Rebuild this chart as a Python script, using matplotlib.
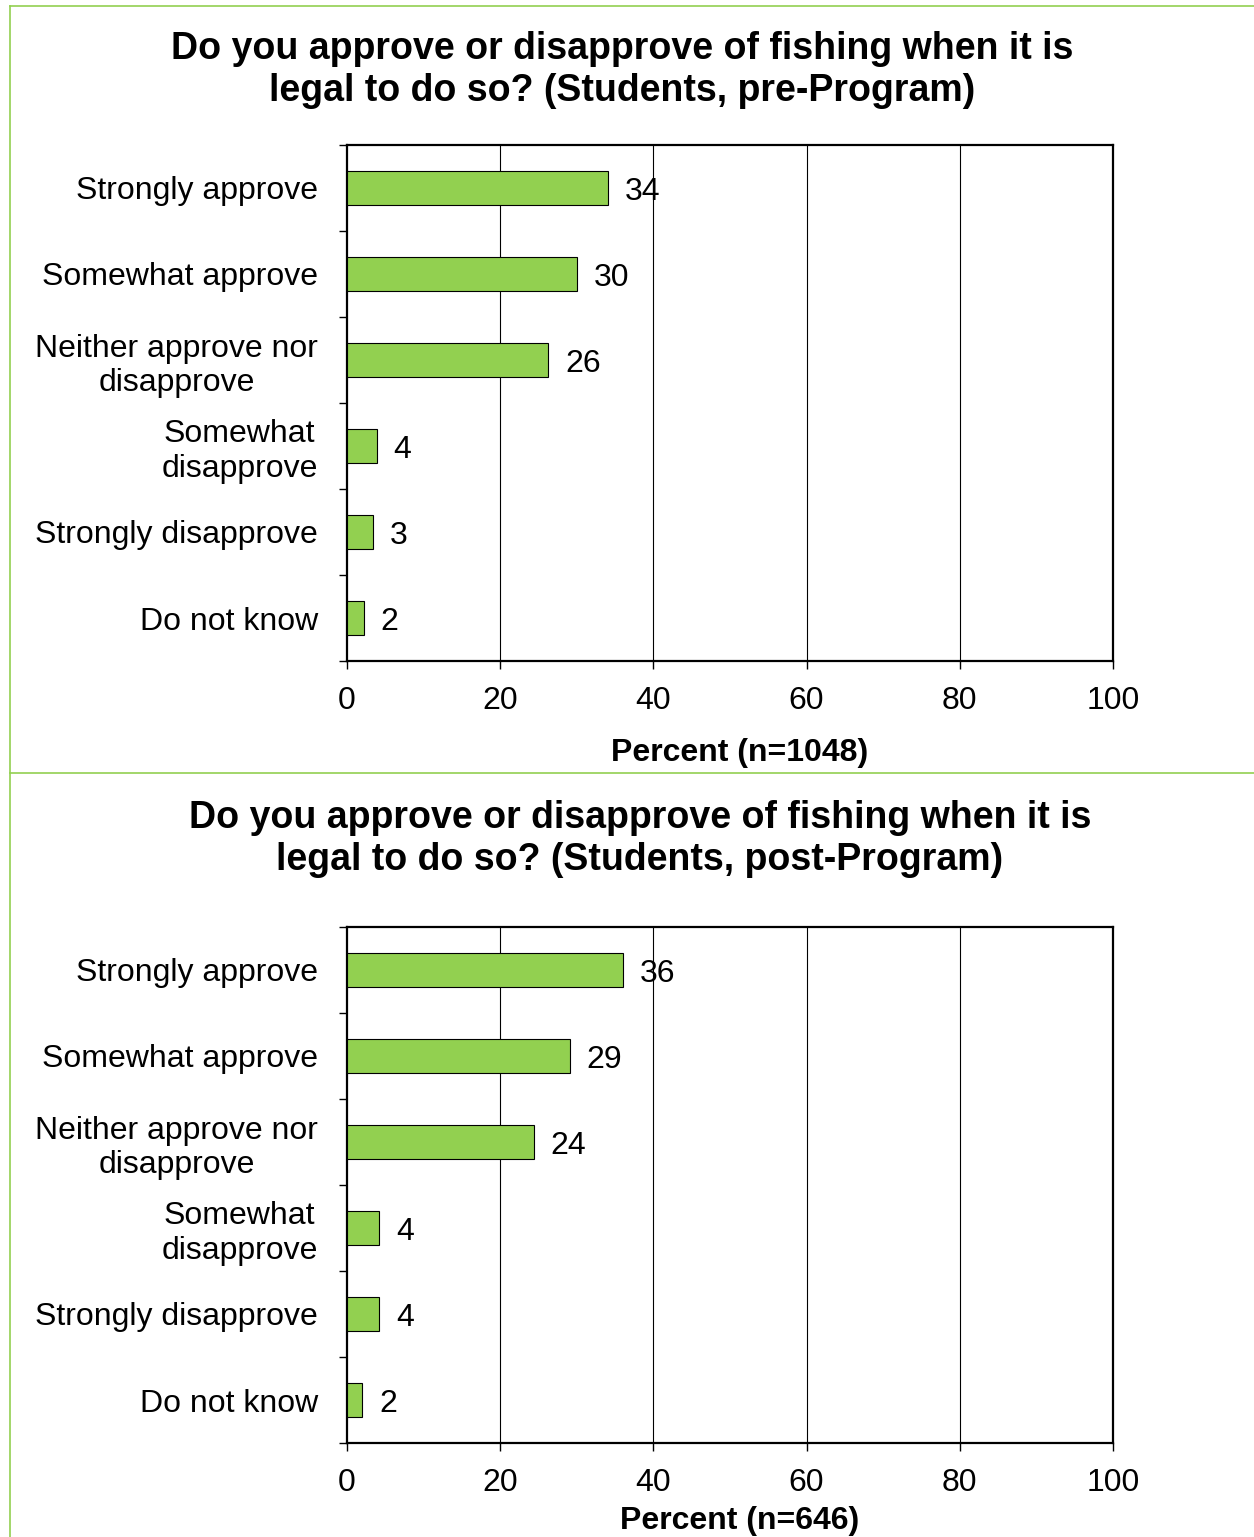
import matplotlib.pyplot as plt
import numpy as np
from matplotlib.lines import Line2D

plt.rcParams["font.family"] = ["Liberation Sans", "DejaVu Sans"]

categories = [
    "Strongly approve",
    "Somewhat approve",
    "Neither approve nor\ndisapprove",
    "Somewhat\ndisapprove",
    "Strongly disapprove",
    "Do not know",
]
pre_values = [34.1, 30.0, 26.3, 3.9, 3.4, 2.2]
pre_labels = ["34", "30", "26", "4", "3", "2"]
post_values = [36.0, 29.1, 24.4, 4.2, 4.2, 2.0]
post_labels = ["36", "29", "24", "4", "4", "2"]
x_ticks = [0, 20, 40, 60, 80, 100]

W, H = 1254, 1537
BAR_GREEN = "#92D050"
FRAME_GREEN = "#92D050"

fig = plt.figure(figsize=(W / 100, H / 100), dpi=100)


def px_axes(x0, y0, x1, y1):
    # pixel box (top-left origin) -> figure fraction
    return fig.add_axes([x0 / W, 1 - y1 / H, (x1 - x0) / W, (y1 - y0) / H])


def draw_panel(ax, values, labels):
    n = len(categories)
    y = np.arange(n)
    ax.barh(y, values, height=0.4, color=BAR_GREEN, edgecolor="black",
            linewidth=0.8, zorder=3)
    for yi, v, lab in zip(y, values, labels):
        ax.text(v + 2.2, yi, lab, va="center_baseline", ha="left", fontsize=23, zorder=4)
    ax.set_xlim(0, 100)
    ax.set_ylim(n - 0.5, -0.5)
    ax.set_xticks(x_ticks)
    ax.set_xticklabels([str(t) for t in x_ticks], fontsize=23)
    ax.set_yticks(y)
    ax.set_yticklabels(categories, fontsize=23, multialignment="center",
                       linespacing=1.2)
    ax.set_yticks(np.arange(n + 1) - 0.5, minor=True)
    ax.tick_params(axis="y", which="major", length=0, pad=21)
    ax.tick_params(axis="y", which="minor", length=6, width=1, direction="out")
    ax.tick_params(axis="x", which="major", length=6, width=1, direction="out", pad=12)
    for g in x_ticks[1:-1]:
        ax.axvline(g, color="black", linewidth=0.8, zorder=1)
    for s in ax.spines.values():
        s.set_linewidth(1.6)


ax1 = px_axes(347, 145, 1113, 661)
draw_panel(ax1, pre_values, pre_labels)
ax2 = px_axes(347, 927, 1113, 1443)
draw_panel(ax2, post_values, post_labels)

fig.text(622 / W, 1 - 70 / H,
         "Do you approve or disapprove of fishing when it is\nlegal to do so? (Students, pre-Program)",
         ha="center", va="center", fontsize=27, fontweight="bold", linespacing=1.22)
fig.text(640 / W, 1 - 839 / H,
         "Do you approve or disapprove of fishing when it is\nlegal to do so? (Students, post-Program)",
         ha="center", va="center", fontsize=27, fontweight="bold", linespacing=1.22)
fig.text(740 / W, 1 - 753 / H, "Percent (n=1048)", ha="center", va="center",
         fontsize=23, fontweight="bold")
fig.text(740 / W, 1 - 1521 / H, "Percent (n=646)", ha="center", va="center",
         fontsize=23, fontweight="bold")

# light green panel frame lines
for xs, ys in [([10, 10], [6, H]), ([10, W], [6, 6]), ([10, W], [773, 773])]:
    fig.add_artist(Line2D([x / W for x in xs], [1 - y / H for y in ys],
                          color=FRAME_GREEN, linewidth=1.2))

fig.savefig("out.png", dpi=100)
